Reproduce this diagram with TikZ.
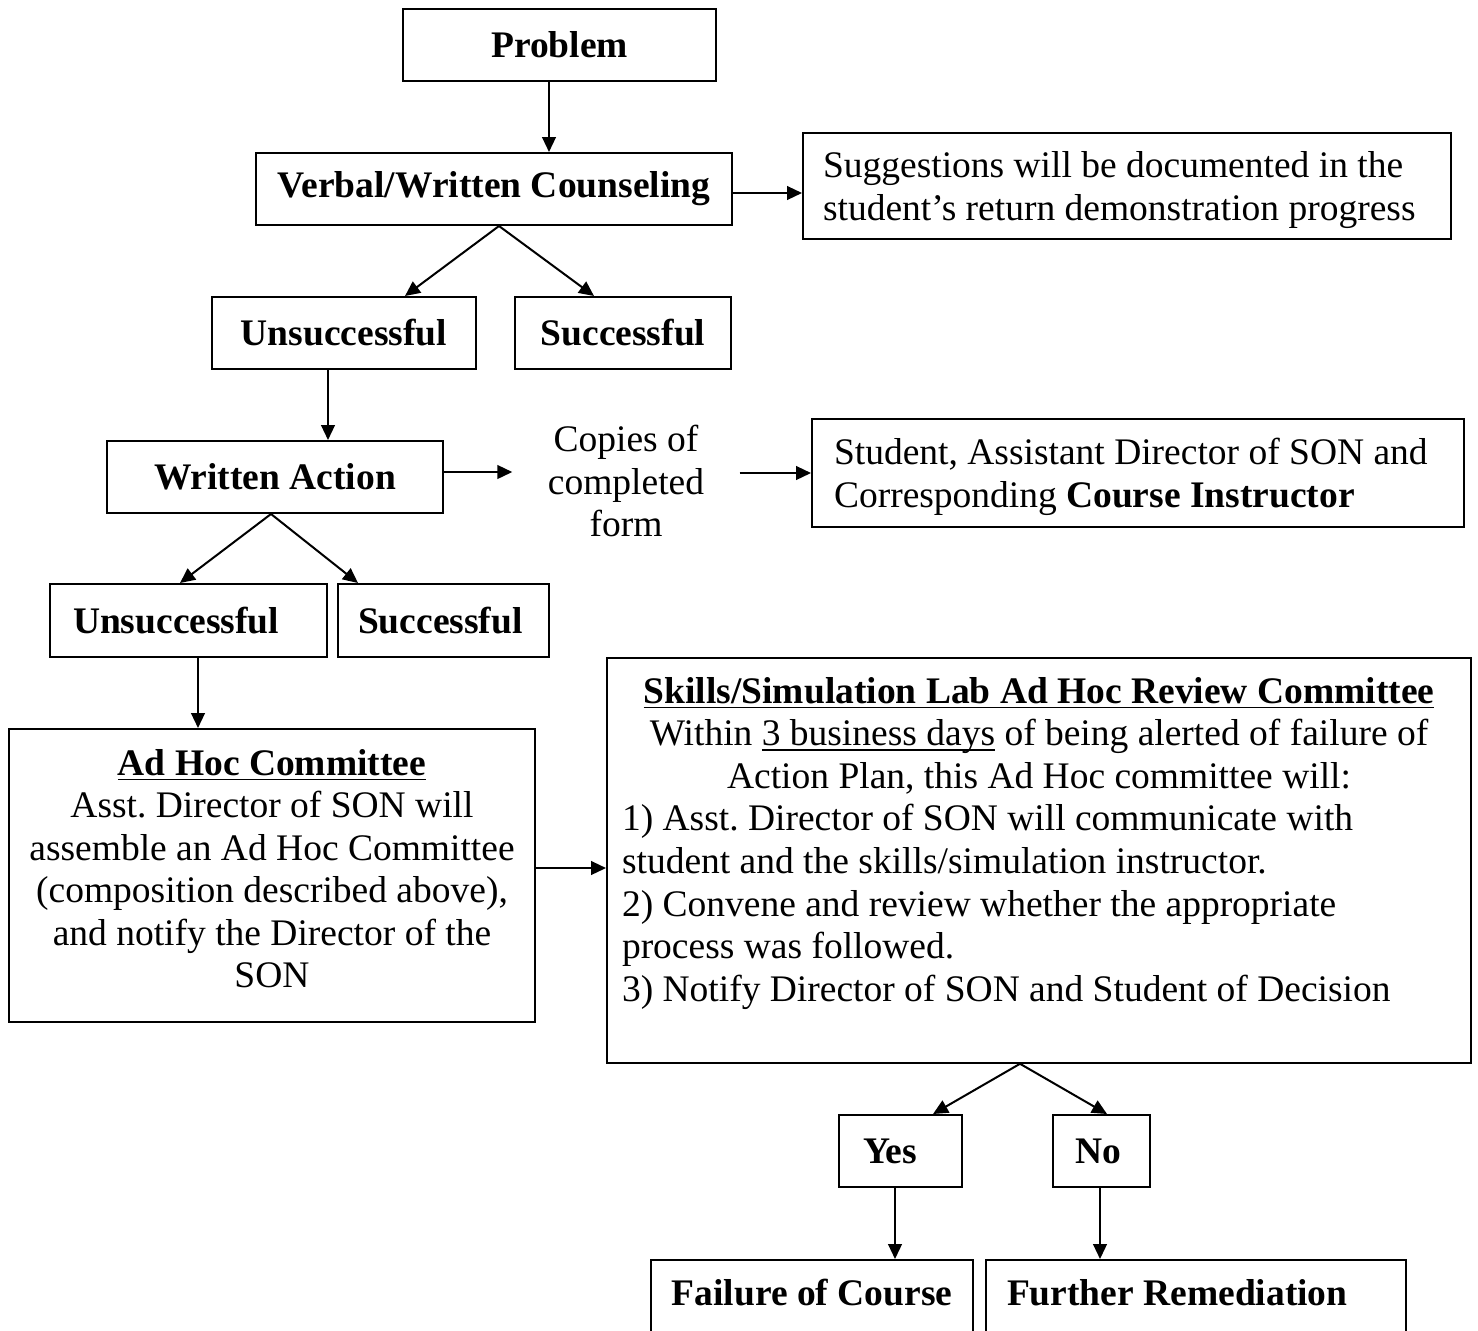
\documentclass[tikz,border=0pt]{standalone}
\usepackage{fontspec}
\setmainfont{Liberation Serif}
\usetikzlibrary{arrows.meta}

\newcommand\pxu{0.32pt}
\newcommand\boxfont{\fontsize{12}{13.63}\selectfont\frenchspacing\relax}
\newcommand\lftline[2]{\makebox[\dimexpr\pxu*#1\relax][l]{#2}}
\newcommand\ctrline[2]{\makebox[\dimexpr\pxu*#1\relax][c]{#2}}

\begin{document}
\begin{tikzpicture}[x=0.32pt,y=-0.32pt,
  txt/.style={font=\boxfont,inner sep=0pt},
  box/.style={txt,draw=black,line width=0.64pt,align=center},
  bbox/.style={box,font=\boxfont\bfseries},
  arr/.style={line width=0.64pt,-{Triangle[length=4.8pt,width=4.4pt]}}]
  \useasboundingbox (0,0) rectangle (1478,1330);
  \clip (0,0) rectangle (1478,1330);

  \node[bbox,minimum width=313*\pxu,minimum height=72*\pxu] (prob) at (559.5,45) {Problem};
  \node[bbox,minimum width=476*\pxu,minimum height=72*\pxu] (verb) at (494,189) {Verbal/Written Counseling};
  \node[box,inner xsep=20*\pxu,minimum height=106*\pxu,text depth=0pt] (sugg) at (1127,186)
    {\lftline{608}{Suggestions will be documented in the}\\ \lftline{608}{student’s return demonstration progress}};
  \node[bbox,minimum width=264*\pxu,minimum height=72*\pxu] (uns1) at (344,333) {Unsuccessful};
  \node[bbox,minimum width=216*\pxu,minimum height=72*\pxu] (suc1) at (623,333) {Successful};
  \node[bbox,minimum width=336*\pxu,minimum height=72*\pxu] (wact) at (275,477) {Written Action};
  \node[txt,align=center,inner xsep=35*\pxu] (copies) at (626,481) {Copies of\\ completed\\ form};
  \node[box,inner xsep=22*\pxu,minimum height=108*\pxu,text depth=0pt] (stud) at (1138,473)
    {\lftline{608}{Student, Assistant Director of SON and}\\ \lftline{608}{Corresponding \textbf{Course Instructor}}};
  \node[bbox,inner xsep=23*\pxu,minimum height=73*\pxu] (uns2) at (188.5,620.5) {\lftline{231}{Unsuccessful}};
  \node[bbox,inner xsep=20*\pxu,minimum height=73*\pxu] (suc2) at (443.5,620.5) {\lftline{171}{Successful}};
  \node[box,minimum width=526*\pxu,minimum height=293*\pxu,text depth=4.5pt] (adhoc) at (272,875.5)
    {\underline{\textbf{Ad Hoc Committee}}\\ Asst. Director of SON will\\ assemble an Ad Hoc Committee\\
     (composition described above),\\ and notify the Director of the\\ SON};
  \node[box,anchor=north,inner xsep=15*\pxu,inner ysep=19*\pxu,minimum height=402*\pxu] (review) at (1039,657)
    {\ctrline{834}{\underline{\textbf{Skills/Simulation Lab Ad Hoc Review Committee}}}\\
     \ctrline{834}{Within \underline{\smash{3 business days}} of being alerted of failure of}\\
     \ctrline{834}{Action Plan, this Ad Hoc committee will:}\\
     \lftline{834}{1) Asst. Director of SON will communicate with}\\
     \lftline{834}{student and the skills/simulation instructor.}\\
     \lftline{834}{2) Convene and review whether the appropriate}\\
     \lftline{834}{process was followed.}\\
     \lftline{834}{3) Notify Director of SON and Student of Decision}\\
     \mbox{}};
  \node[bbox,inner xsep=24*\pxu,minimum height=72*\pxu] (yes) at (900.5,1151) {\lftline{75}{Yes}};
  \node[bbox,inner xsep=22*\pxu,minimum height=72*\pxu] (no) at (1101.5,1151) {\lftline{53}{No}};
  \node[bbox,anchor=north,minimum width=322*\pxu,text height=8.3pt,text depth=30pt,inner ysep=6.4pt] (fail) at (812,1259) {Failure of Course};
  \node[bbox,anchor=north,inner xsep=21*\pxu,text height=8.3pt,text depth=30pt,inner ysep=6.4pt] (remed) at (1196,1259) {\lftline{378}{Further Remediation}};

  \draw[arr] ([xshift=-10.5*\pxu]prob.south) -- ([xshift=55*\pxu]verb.north);
  \draw[arr] ([yshift=-4*\pxu]verb.east) -- ([yshift=-7*\pxu]sugg.west);
  \draw[arr] ([xshift=5*\pxu]verb.south) -- ([xshift=61*\pxu]uns1.north);
  \draw[arr] ([xshift=5*\pxu]verb.south) -- ([xshift=-29*\pxu]suc1.north);
  \draw[arr] ([xshift=-16*\pxu]uns1.south) -- ([xshift=53*\pxu]wact.north);
  \draw[arr] ([yshift=5*\pxu]wact.east) coordinate (wa) -- (wa -| copies.west);
  \draw[arr] (copies.east |- stud.west) -- (stud.west);
  \draw[arr] ([xshift=-4*\pxu]wact.south) -- ([xshift=-8.5*\pxu]uns2.north);
  \draw[arr] ([xshift=-4*\pxu]wact.south) -- ([xshift=-85.5*\pxu]suc2.north);
  \draw[arr] ([xshift=9.5*\pxu]uns2.south) -- ([xshift=-74*\pxu]adhoc.north);
  \draw[arr] ([yshift=7.5*\pxu]adhoc.east) coordinate (ar) -- (ar -| review.west);
  \draw[arr] ([xshift=-19*\pxu]review.south) -- ([xshift=32.5*\pxu]yes.north);
  \draw[arr] ([xshift=-19*\pxu]review.south) -- ([xshift=5.5*\pxu]no.north);
  \draw[arr] ([xshift=-5.5*\pxu]yes.south) -- ([xshift=83*\pxu]fail.north);
  \draw[arr] ([xshift=-1.5*\pxu]no.south) -- ([xshift=-96*\pxu]remed.north);
\end{tikzpicture}
\end{document}
